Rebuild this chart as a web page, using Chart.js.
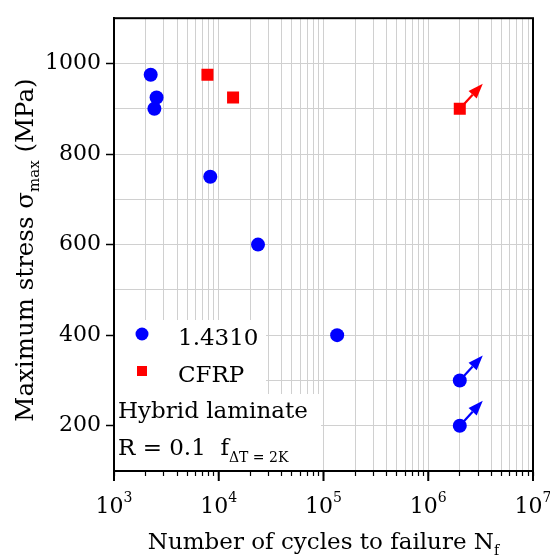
<!DOCTYPE html>
<html>
<head>
<meta charset="utf-8">
<script src="https://cdn.jsdelivr.net/npm/chart.js@4"></script>
<style>
  html, body { margin: 0; padding: 0; background: #fff; }
  #wrap { width: 550px; height: 556px; }
</style>
</head>
<body>
<div id="wrap"><canvas id="c" width="550" height="556"></canvas></div>
<script>
// S-N data of the hybrid laminate
const steelCycles = [2240, 2550, 2430, 8300, 23700, 135000, 2000000, 2000000];
const steelStress = [975, 925, 900, 750, 600, 400, 300, 200];
const steelRunout = [false, false, false, false, false, false, true, true];

const cfrpCycles = [7800, 13700, 2000000];
const cfrpStress = [975, 925, 900];
const cfrpRunout = [false, false, true];

const seriesNames = ['1.4310', 'CFRP'];
const decadeExps = [3, 4, 5, 6, 7];
const yTickValues = [200, 400, 600, 800, 1000];

const FONT = '"DejaVu Serif", "Liberation Serif", serif';
const BLUE = '#0000ff';
const RED = '#ff0000';

const toPoints = (xs, ys) => xs.map((x, i) => ({ x: x, y: ys[i] }));

// draws a string with an optional subscript / superscript part
function richText(ctx, parts, x, y, align) {
    let total = 0;
    parts.forEach(p => { ctx.font = p.size + 'px ' + FONT; total += ctx.measureText(p.t).width; });
    let cx = align === 'center' ? x - total / 2 : x;
    ctx.textAlign = 'left';
    ctx.textBaseline = 'alphabetic';
    parts.forEach(p => {
        ctx.font = p.size + 'px ' + FONT;
        ctx.fillText(p.t, cx, y + (p.dy || 0));
        cx += ctx.measureText(p.t).width;
    });
}

function arrow(ctx, x0, y0, color) {
    const dx = 23, dy = -25;
    const len = Math.hypot(dx, dy);
    const ux = dx / len, uy = dy / len;
    const head = 15, half = 5.5;
    const bx = x0 + dx - ux * head, by = y0 + dy - uy * head;
    ctx.save();
    ctx.strokeStyle = color;
    ctx.fillStyle = color;
    ctx.lineWidth = 2.2;
    ctx.beginPath();
    ctx.moveTo(x0, y0);
    ctx.lineTo(bx, by);
    ctx.stroke();
    ctx.beginPath();
    ctx.moveTo(x0 + dx, y0 + dy);
    ctx.lineTo(bx - uy * half, by + ux * half);
    ctx.lineTo(bx + uy * half, by - ux * half);
    ctx.closePath();
    ctx.fill();
    ctx.restore();
}

const extras = {
    id: 'extras',
    beforeDatasetsDraw(chart) {
        const ctx = chart.ctx, xs = chart.scales.x, ys = chart.scales.y;
        // run-out arrows sit under the markers
        steelCycles.forEach((c, i) => {
            if (steelRunout[i]) arrow(ctx, xs.getPixelForValue(c), ys.getPixelForValue(steelStress[i]), BLUE);
        });
        cfrpCycles.forEach((c, i) => {
            if (cfrpRunout[i]) arrow(ctx, xs.getPixelForValue(c), ys.getPixelForValue(cfrpStress[i]), RED);
        });
    },
    afterDraw(chart) {
        const ctx = chart.ctx, a = chart.chartArea, xs = chart.scales.x;
        ctx.save();

        // legend / note box
        ctx.fillStyle = '#fff';
        ctx.fillRect(a.left + 1, 320, 151, 76);
        ctx.fillRect(a.left + 1, 394, 206, a.bottom - 394 - 1);

        ctx.fillStyle = BLUE;
        ctx.beginPath();
        ctx.arc(142, 334, 6.5, 0, Math.PI * 2);
        ctx.fill();
        ctx.fillStyle = RED;
        ctx.fillRect(137, 366, 10, 10);

        ctx.fillStyle = '#000';
        richText(ctx, [{ t: seriesNames[0], size: 23 }], 178, 345);
        richText(ctx, [{ t: seriesNames[1], size: 23 }], 178, 382);
        richText(ctx, [{ t: 'Hybrid laminate', size: 23 }], 118, 418);
        richText(ctx, [{ t: 'R = 0.1  f', size: 23 }, { t: '\u0394T = 2K', size: 14, dy: 7 }], 118, 455);

        // frame
        ctx.strokeStyle = '#000';
        ctx.lineWidth = 2;
        ctx.strokeRect(a.left, a.top, a.right - a.left, a.bottom - a.top);

        // longer ticks at the decades
        ctx.beginPath();
        decadeExps.forEach(e => {
            const px = xs.getPixelForValue(Math.pow(10, e));
            ctx.moveTo(px, a.bottom);
            ctx.lineTo(px, a.bottom + 10);
        });
        ctx.stroke();

        // decade labels
        decadeExps.forEach(e => {
            const px = xs.getPixelForValue(Math.pow(10, e));
            richText(ctx, [{ t: '10', size: 22 }, { t: String(e), size: 14, dy: -11 }], px, 513, 'center');
        });

        // axis titles
        richText(ctx, [{ t: 'Number of cycles to failure N', size: 23 }, { t: 'f', size: 14, dy: 6 }], (a.left + a.right) / 2, 549, 'center');
        ctx.save();
        ctx.translate(33, 250);
        ctx.rotate(-Math.PI / 2);
        richText(ctx, [{ t: 'Maximum stress \u03c3', size: 24.5 }, { t: 'max', size: 15, dy: 6 }, { t: ' (MPa)', size: 24.5 }], 0, 0, 'center');
        ctx.restore();

        ctx.restore();
    }
};

new Chart(document.getElementById('c'), {
    type: 'scatter',
    data: {
        datasets: [
            {
                label: seriesNames[0],
                data: toPoints(steelCycles, steelStress),
                pointStyle: 'circle',
                pointRadius: 7,
                pointHoverRadius: 7,
                backgroundColor: BLUE,
                borderColor: BLUE,
                borderWidth: 0
            },
            {
                label: seriesNames[1],
                data: toPoints(cfrpCycles, cfrpStress),
                pointStyle: 'rect',
                pointRadius: 8.5,
                pointHoverRadius: 8.5,
                backgroundColor: RED,
                borderColor: RED,
                borderWidth: 0
            }
        ]
    },
    options: {
        responsive: false,
        animation: false,
        layout: { padding: { top: 16, right: 17, left: 0, bottom: 0 } },
        plugins: {
            legend: { display: false },
            tooltip: { enabled: false }
        },
        scales: {
            x: {
                type: 'logarithmic',
                min: 1000,
                max: 10000000,
                afterBuildTicks(scale) {
                    const t = [];
                    decadeExps.forEach(e => {
                        for (let m = 1; m <= 9; m++) {
                            const v = m * Math.pow(10, e);
                            if (v <= 10000000) t.push({ value: v });
                        }
                    });
                    scale.ticks = t;
                },
                afterFit(scale) { scale.height = 85; },
                ticks: { display: false },
                grid: { color: '#d0d0d0', lineWidth: 1, tickColor: '#000', tickLength: 5, tickWidth: 1.2 },
                border: { color: '#000', width: 2 }
            },
            y: {
                min: 100,
                max: 1100,
                afterBuildTicks(scale) {
                    const t = [];
                    for (let v = 100; v <= 1100; v += 100) t.push({ value: v });
                    scale.ticks = t;
                },
                afterFit(scale) { scale.width = 114; },
                ticks: {
                    color: '#000',
                    padding: 5,
                    font: { family: FONT, size: 22 },
                    callback: v => yTickValues.includes(v) ? String(v) : ''
                },
                grid: {
                    color: '#d0d0d0',
                    lineWidth: 1,
                    tickLength: 8,
                    tickWidth: 1.5,
                    tickColor: c => (c.tick && yTickValues.includes(c.tick.value)) ? '#000' : 'rgba(0,0,0,0)'
                },
                border: { color: '#000', width: 2 }
            }
        }
    },
    plugins: [extras]
});
</script>
</body>
</html>
